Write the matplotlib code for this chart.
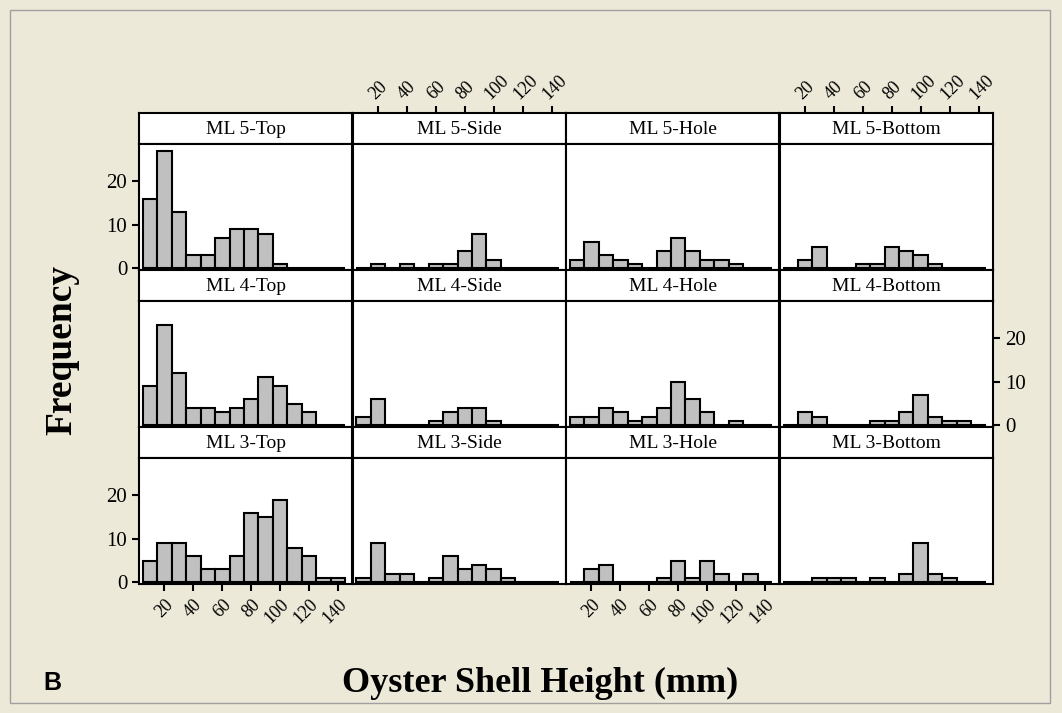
import numpy as np
import matplotlib
matplotlib.use("Agg")
import matplotlib.pyplot as plt
from matplotlib.patches import Rectangle

# bin midpoints (mm) and counts per panel
bins = [10, 20, 30, 40, 50, 60, 70, 80, 90, 100, 110, 120, 130, 140]
xticks = [20, 40, 60, 80, 100, 120, 140]
yticks = [0, 10, 20]

ml5_top = [16, 27, 13, 3, 3, 7, 9, 9, 8, 1, 0, 0, 0, 0]
ml5_side = [0, 1, 0, 1, 0, 1, 1, 4, 8, 2, 0, 0, 0, 0]
ml5_hole = [2, 6, 3, 2, 1, 0, 4, 7, 4, 2, 2, 1, 0, 0]
ml5_bottom = [0, 2, 5, 0, 0, 1, 1, 5, 4, 3, 1, 0, 0, 0]
ml4_top = [9, 23, 12, 4, 4, 3, 4, 6, 11, 9, 5, 3, 0, 0]
ml4_side = [2, 6, 0, 0, 0, 1, 3, 4, 4, 1, 0, 0, 0, 0]
ml4_hole = [2, 2, 4, 3, 1, 2, 4, 10, 6, 3, 0, 1, 0, 0]
ml4_bottom = [0, 3, 2, 0, 0, 0, 1, 1, 3, 7, 2, 1, 1, 0]
ml3_top = [5, 9, 9, 6, 3, 3, 6, 16, 15, 19, 8, 6, 1, 1]
ml3_side = [1, 9, 2, 2, 0, 1, 6, 3, 4, 3, 1, 0, 0, 0]
ml3_hole = [0, 3, 4, 0, 0, 0, 1, 5, 1, 5, 2, 0, 2, 0]
ml3_bottom = [0, 0, 1, 1, 1, 0, 1, 0, 2, 9, 2, 1, 0, 0]

titles = [["ML 5-Top", "ML 5-Side", "ML 5-Hole", "ML 5-Bottom"],
          ["ML 4-Top", "ML 4-Side", "ML 4-Hole", "ML 4-Bottom"],
          ["ML 3-Top", "ML 3-Side", "ML 3-Hole", "ML 3-Bottom"]]
counts = [[ml5_top, ml5_side, ml5_hole, ml5_bottom],
          [ml4_top, ml4_side, ml4_hole, ml4_bottom],
          [ml3_top, ml3_side, ml3_hole, ml3_bottom]]

W, H = 1062, 713
bg = "#ece9d8"
serif = "Liberation Serif"

fig = plt.figure(figsize=(W / 100, H / 100), dpi=100, facecolor=bg)
fig.patches.append(Rectangle((10 / W, 1 - 703 / H), 1040 / W, 693 / H,
                             transform=fig.transFigure, fill=False,
                             edgecolor="#a0a0a0", lw=1))

left, right = 139, 993
top = 113
strip_h, plot_h = 31, 126
col_w = (right - left) / 4
xlim = (2.4, 150)
ylim = (-0.4, 28.6)

for r in range(3):
    y0 = top + r * (strip_h + plot_h)
    for c in range(4):
        x0 = left + c * col_w
        # strip
        sax = fig.add_axes([x0 / W, 1 - (y0 + strip_h) / H, col_w / W, strip_h / H])
        sax.set_facecolor("white")
        sax.set_xlim(xlim)
        sax.set_yticks([])
        for s in sax.spines.values():
            s.set_linewidth(1.5)
        sax.text(0.5, 0.47, titles[r][c], transform=sax.transAxes,
                 ha="center", va="center", fontsize=14, family=serif)
        if r == 0 and c in (1, 3):
            sax.xaxis.tick_top()
            sax.set_xticks(xticks)
            sax.set_xticklabels([str(t) for t in xticks], rotation=45,
                                ha="left", va="bottom", rotation_mode="anchor",
                                family=serif, fontsize=13)
            sax.tick_params(axis="x", direction="out", length=5, width=1.5, pad=2)
        else:
            sax.set_xticks([])

        # plot panel
        ax = fig.add_axes([x0 / W, 1 - (y0 + strip_h + plot_h) / H, col_w / W, plot_h / H])
        ax.set_facecolor("white")
        ax.bar(bins, counts[r][c], width=10, color="#c0c0c0",
               edgecolor="black", linewidth=1.5)
        ax.set_xlim(xlim)
        ax.set_ylim(ylim)
        for s in ax.spines.values():
            s.set_linewidth(1.5)
        ax.tick_params(direction="out", length=5, width=1.5)

        if r == 2 and c in (0, 2):
            ax.set_xticks(xticks)
            ax.set_xticklabels([str(t) for t in xticks], rotation=45,
                               ha="right", va="top", rotation_mode="anchor",
                               family=serif, fontsize=13)
        else:
            ax.set_xticks([])

        if c == 0 and r in (0, 2):
            ax.set_yticks(yticks)
            ax.set_yticklabels([str(t) for t in yticks], family=serif, fontsize=15)
        elif c == 3 and r == 1:
            ax.yaxis.tick_right()
            ax.set_yticks(yticks)
            ax.set_yticklabels([str(t) for t in yticks], family=serif, fontsize=15)
        else:
            ax.set_yticks([])

fig.text(62 / W, 1 - 350 / H, "Frequency", rotation=90, ha="center", va="center",
         fontsize=27, fontweight="bold", family=serif)
fig.text(540 / W, 1 - 683 / H, "Oyster Shell Height (mm)", ha="center", va="center",
         fontsize=26, fontweight="bold", family=serif)
fig.text(52 / W, 1 - 683 / H, "B", ha="center", va="center",
         fontsize=18, fontweight="bold", family="Liberation Sans")

fig.savefig("out.png", dpi=100, facecolor=bg)
